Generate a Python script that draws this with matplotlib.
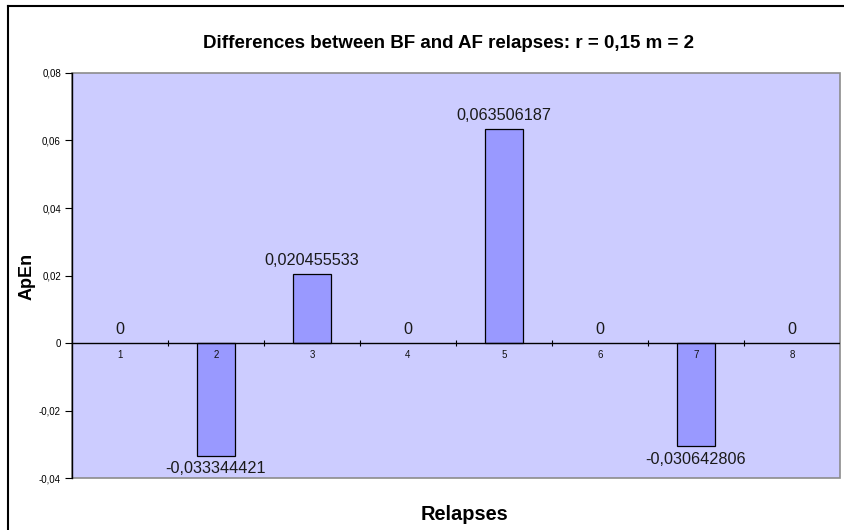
import matplotlib
matplotlib.use("Agg")
import matplotlib.pyplot as plt
from matplotlib.patches import Rectangle
from matplotlib.lines import Line2D

relapses = [1, 2, 3, 4, 5, 6, 7, 8]
apen_diff = [0, -0.033344421, 0.020455533, 0, 0.063506187, 0, -0.030642806, 0]
value_labels = ["0", "-0,033344421", "0,020455533", "0", "0,063506187", "0",
                "-0,030642806", "0"]
y_ticks = [-0.04, -0.02, 0, 0.02, 0.04, 0.06, 0.08]
y_tick_labels = ["-0,04", "-0,02", "0", "0,02", "0,04", "0,06", "0,08"]

plt.rcParams["font.family"] = ["Liberation Sans", "DejaVu Sans"]

fig = plt.figure(figsize=(8.45, 5.30), dpi=100)
ax = fig.add_axes([72 / 845, 1 - 478 / 530, 768 / 845, 405 / 530])
ax.set_facecolor("#CCCCFF")

# zero-height bars collapse onto the axis line, so they get no outline
edge_widths = [0 if v == 0 else 0.9 for v in apen_diff]
ax.bar(relapses, apen_diff, width=0.4, color="#9999FF", edgecolor="black",
       linewidth=edge_widths, zorder=3)

ax.set_xlim(0.5, 8.5)
ax.set_ylim(-0.04, 0.08)

# plot-area frame
for side in ("top", "right", "bottom"):
    ax.spines[side].set_visible(False)
ax.add_patch(Rectangle((0, 0), 1, 1, transform=ax.transAxes, fill=False,
                       edgecolor="#8C8C8C", linewidth=1.2, zorder=1, clip_on=False))
ax.spines["left"].set_color("black")
ax.spines["left"].set_linewidth(1.0)
ax.spines["left"].set_zorder(4)

# category axis sits on the zero line
ax.axhline(0, color="black", linewidth=1.0, zorder=4)
ax.set_xticks([])
for r in relapses:
    ax.annotate(str(r), (r, 0), xytext=(0, -8.5), textcoords="offset points",
                ha="center", va="center", fontsize=7, color="#111111", zorder=5)
for b in relapses[:-1]:
    ax.plot([b + 0.5], [0], marker=(2, 0, 0), markersize=4,
            color="black", markeredgewidth=0.8, zorder=4, clip_on=False)

ax.set_yticks(y_ticks)
ax.set_yticklabels(y_tick_labels)
ax.tick_params(axis="y", length=5, width=0.8, labelsize=7, pad=3, colors="black")

# value labels
for r, v, t in zip(relapses, apen_diff, value_labels):
    if v < 0:
        ax.annotate(t, (r, v), xytext=(0, -4), textcoords="offset points",
                    ha="center", va="top", fontsize=11.7, color="#1a1a1a", zorder=5)
    else:
        ax.annotate(t, (r, v), xytext=(0, 4), textcoords="offset points",
                    ha="center", va="bottom", fontsize=11.7, color="#1a1a1a", zorder=5)

fig.text(449 / 845, 1 - 43 / 530, "Differences between BF and AF relapses: r = 0,15 m = 2",
         ha="center", va="center", fontsize=13.5, fontweight="bold")
fig.text(27 / 845, 1 - 276 / 530, "ApEn", rotation=90, ha="center", va="center",
         fontsize=13, fontweight="bold")
fig.text(465 / 845, 1 - 515 / 530, "Relapses", ha="center", va="center",
         fontsize=14.4, fontweight="bold")

# chart-area border
fig.add_artist(Line2D([8 / 845, 8 / 845], [0, 1 - 6 / 530], color="black",
                      linewidth=1.5, transform=fig.transFigure))
fig.add_artist(Line2D([8 / 845, 1], [1 - 6 / 530, 1 - 6 / 530], color="black",
                      linewidth=1.5, transform=fig.transFigure))

fig.savefig("out.png", dpi=100)
